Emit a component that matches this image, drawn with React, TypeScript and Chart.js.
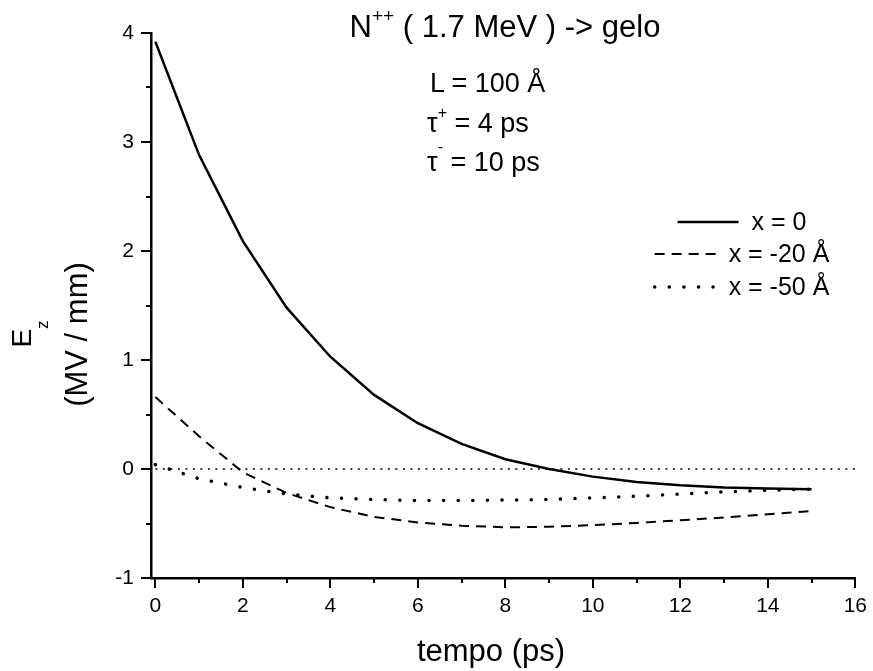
import React, { useEffect, useRef } from "react";
import { Chart, registerables } from "chart.js";
Chart.register(...registerables);

const TIME = [0, 1, 2, 3, 4, 5, 6, 7, 8, 9, 10, 11, 12, 13, 14, 15];
const E_X0 = [3.92, 2.88, 2.09, 1.48, 1.03, 0.68, 0.42, 0.23, 0.09, 0.0, -0.07, -0.12, -0.15, -0.17, -0.18, -0.185];
const E_X20 = [0.66, 0.3, -0.03, -0.22, -0.35, -0.44, -0.49, -0.52, -0.535, -0.53, -0.515, -0.495, -0.47, -0.445, -0.415, -0.385];
const E_X50 = [0.04, -0.09, -0.17, -0.23, -0.265, -0.28, -0.29, -0.29, -0.285, -0.28, -0.265, -0.25, -0.23, -0.21, -0.195, -0.185];
const ZERO_X = [0, 16];
const ZERO_Y = [0, 0];
const SERIES_LABELS = ["x = 0", "x = -20 Å", "x = -50 Å"];
const X_TICKS = [0, 2, 4, 6, 8, 10, 12, 14, 16];
const Y_TICKS = [-1, 0, 1, 2, 3, 4];
const X_MIN = -0.1, X_MAX = 16, Y_MIN = -1, Y_MAX = 4;

const FONT = "'Liberation Sans', Arial, Helvetica, sans-serif";

const toXY = (xs: number[], ys: number[]) => xs.map((x, i) => ({ x, y: ys[i] }));

const axisPlugin = {
  id: "axisAndLegend",
  afterDraw(chart: any) {
    const { ctx, chartArea, scales } = chart;
    const xs = scales.x, ys = scales.y;
    ctx.save();
    ctx.strokeStyle = "#000";
    ctx.lineWidth = 2;
    ctx.setLineDash([]);
    ctx.beginPath();
    for (let v = 0; v <= X_MAX; v += 1) {
      const px = Math.round(xs.getPixelForValue(v));
      const len = v % 2 === 0 ? 10 : 5;
      ctx.moveTo(px, chartArea.bottom);
      ctx.lineTo(px, chartArea.bottom + len);
    }
    for (let v = Y_MIN; v <= Y_MAX + 1e-9; v += 0.5) {
      const py = Math.round(ys.getPixelForValue(v));
      const len = Math.abs(v - Math.round(v)) < 1e-9 ? 10 : 5;
      ctx.moveTo(chartArea.left, py);
      ctx.lineTo(chartArea.left - len, py);
    }
    ctx.stroke();

    // legend
    ctx.font = `25px ${FONT}`;
    ctx.fillStyle = "#000";
    ctx.textBaseline = "alphabetic";
    const centerX = 742;
    const rowY = [222, 254, 287];
    for (let i = 0; i < 3; i++) {
      const ds = chart.data.datasets[i];
      const label = SERIES_LABELS[i];
      const tw = ctx.measureText(label).width;
      const sample = 61, gap = 13;
      const x0 = centerX - (sample + gap + tw) / 2;
      const y = rowY[i];
      ctx.beginPath();
      ctx.setLineDash(ds.borderDash || []);
      ctx.lineWidth = ds.borderWidth;
      ctx.lineCap = ds.borderCapStyle || "butt";
      ctx.moveTo(x0, y);
      ctx.lineTo(x0 + sample, y);
      ctx.stroke();
      ctx.setLineDash([]);
      ctx.fillText(label, x0 + sample + gap, y + 8);
    }
    ctx.restore();
  },
};

export default function App() {
  const ref = useRef<HTMLCanvasElement | null>(null);
  useEffect(() => {
    if (!ref.current) return;
    const chart = new Chart(ref.current, {
      type: "line",
      data: {
        datasets: [
          {
            label: SERIES_LABELS[0],
            data: toXY(TIME, E_X0),
            borderColor: "#000",
            borderWidth: 2.5,
            pointRadius: 0,
            tension: 0,
            fill: false,
          },
          {
            label: SERIES_LABELS[1],
            data: toXY(TIME, E_X20),
            borderColor: "#000",
            borderWidth: 2,
            borderDash: [10, 7],
            pointRadius: 0,
            tension: 0,
            fill: false,
          },
          {
            label: SERIES_LABELS[2],
            data: toXY(TIME, E_X50),
            borderColor: "#000",
            borderWidth: 3.5,
            borderDash: [0.1, 14.5],
            borderCapStyle: "round",
            pointRadius: 0,
            tension: 0,
            fill: false,
          },
          {
            label: "zero",
            data: toXY(ZERO_X, ZERO_Y),
            borderColor: "#000",
            borderWidth: 1.6,
            borderDash: [2, 5.5],
            pointRadius: 0,
            fill: false,
          },
        ],
      },
      options: {
        animation: false,
        responsive: true,
        maintainAspectRatio: false,
        layout: { padding: { top: 33, right: 13, left: 0, bottom: 0 } },
        plugins: { legend: { display: false }, tooltip: { enabled: false }, title: { display: false } },
        scales: {
          x: {
            type: "linear",
            min: X_MIN,
            max: X_MAX,
            afterFit: (s: any) => { s.height = 93; },
            afterBuildTicks: (s: any) => { s.ticks = X_TICKS.map((v) => ({ value: v })); },
            grid: { display: false, drawTicks: true, tickLength: 10 },
            border: { display: true, color: "#000", width: 2.5 },
            ticks: {
              color: "#000",
              font: { family: FONT, size: 21 },
              padding: 6,
              maxRotation: 0,
              autoSkip: false,
              callback: (v: any) => String(v),
            },
          },
          y: {
            type: "linear",
            min: Y_MIN,
            max: Y_MAX,
            afterFit: (s: any) => { s.width = 151; },
            afterBuildTicks: (s: any) => { s.ticks = Y_TICKS.map((v) => ({ value: v })); },
            grid: { display: false, drawTicks: true, tickLength: 10 },
            border: { display: true, color: "#000", width: 2.5 },
            ticks: {
              color: "#000",
              font: { family: FONT, size: 21 },
              padding: 7,
              autoSkip: false,
              callback: (v: any) => String(v),
            },
          },
        },
      },
      plugins: [axisPlugin],
    } as any);
    return () => chart.destroy();
  }, []);

  const base: React.CSSProperties = { position: "absolute", fontFamily: FONT, color: "#000", whiteSpace: "nowrap" };
  return (
    <div style={{ position: "absolute", left: 0, top: 0, width: 873, height: 671, background: "#fff" }}>
      <canvas ref={ref} style={{ position: "absolute", left: 0, top: 0 }} />
      <div style={{ ...base, left: 305, width: 400, top: 11, textAlign: "center", fontSize: 31, lineHeight: "31px" }}>
        N<span style={{ fontSize: 19, verticalAlign: "15px", lineHeight: 0 }}>++</span> ( 1.7 MeV ) -&gt; gelo
      </div>
      <div style={{ ...base, left: 430, top: 70, fontSize: 27, lineHeight: "27px" }}>L = 100 Å</div>
      <div style={{ ...base, left: 427, top: 110, fontSize: 27, lineHeight: "27px" }}>
        τ<span style={{ fontSize: 16, verticalAlign: "14px", lineHeight: 0 }}>+</span> = 4 ps
      </div>
      <div style={{ ...base, left: 427, top: 147, fontSize: 27, lineHeight: "27px" }}>
        τ<span style={{ fontSize: 16, verticalAlign: "19px", lineHeight: 0 }}>-</span> = 10 ps
      </div>
      <div style={{ ...base, left: 291, width: 400, top: 635, textAlign: "center", fontSize: 31, lineHeight: "31px" }}>
        tempo (ps)
      </div>
      <div style={{ ...base, left: 22 - 150, top: 334 - 14, width: 300, height: 28, textAlign: "center", fontSize: 28, lineHeight: "28px", transform: "rotate(-90deg)" }}>
        E<span style={{ fontSize: 17, verticalAlign: "-17px", lineHeight: 0 }}>z</span>
      </div>
      <div style={{ ...base, left: 76 - 150, top: 334 - 15.5, width: 300, height: 31, textAlign: "center", fontSize: 31, lineHeight: "31px", transform: "rotate(-90deg)" }}>
        (MV / mm)
      </div>
    </div>
  );
}
